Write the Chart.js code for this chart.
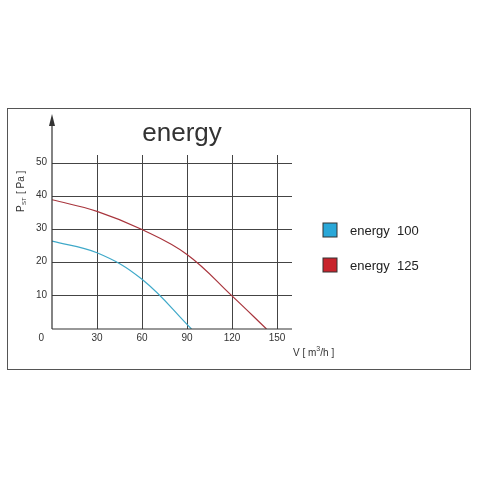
<!DOCTYPE html>
<html><head><meta charset="utf-8">
<script src="https://cdn.jsdelivr.net/npm/chart.js@4"></script>
<style>body{margin:0;background:#fff}#wrap{position:relative;width:480px;height:480px}
#frame{position:absolute;left:7px;top:108px;width:464px;height:262px;border:1px solid #555;box-sizing:border-box}</style>
</head><body><div id="wrap"><div id="frame"></div><canvas id="c" width="480" height="480"></canvas></div>
<script>
// datos
const xTicks = [0, 30, 60, 90, 120, 150];
const yTicks = [10, 20, 30, 40, 50];
const seriesNames = ['energy  100', 'energy  125'];
const blueX = [0, 30, 60, 93];
const blueY = [26.5, 23, 15, 0];
const redX = [0, 30, 60, 90, 120, 143];
const redY = [39, 35.5, 30, 22.5, 10, 0];
const colors = ['#2aa8d8', '#c8242c'];
const lineColors = ['#3fa9c9', '#a8343c'];

const toPts = (xs, ys) => xs.map((x, i) => ({ x: x, y: ys[i] }));

// Dibuja textos, ejes y leyenda
const extras = {
  id: 'extras',
  afterDraw(chart) {
    const ctx = chart.ctx, sx = chart.scales.x, sy = chart.scales.y;
    ctx.save();
    ctx.fillStyle = '#333';
    ctx.font = '10px Arial, "Liberation Sans"';
    ctx.textBaseline = 'middle';
    ctx.textAlign = 'right';
    ctx.fillText('0', sx.left - 8, sy.bottom + 9);
    yTicks.forEach(v => ctx.fillText(v, sx.left - 5, sy.getPixelForValue(v) - 1));
    ctx.textAlign = 'center';
    xTicks.slice(1).forEach(v => ctx.fillText(v, sx.getPixelForValue(v), sy.bottom + 9));
    // ejes con flechas
    ctx.strokeStyle = '#333'; ctx.lineWidth = 1.2;
    ctx.beginPath();
    ctx.moveTo(sx.left, sy.bottom); ctx.lineTo(sx.left, 118);
    ctx.moveTo(sx.left, sy.bottom); ctx.lineTo(sx.right, sy.bottom);
    ctx.stroke();
    ctx.beginPath();
    ctx.moveTo(sx.left, 114); ctx.lineTo(sx.left - 3, 126); ctx.lineTo(sx.left + 3, 126); ctx.closePath();
    ctx.fillStyle = '#333'; ctx.fill();
    // títulos
    ctx.font = '26px Arial, "Liberation Sans"';
    ctx.textAlign = 'center';
    ctx.fillText('energy', 182, 134);
    ctx.font = '10px Arial, "Liberation Sans"';
    ctx.textAlign = 'left';
    ctx.fillText('V [ m', 293, 353);
    let w = ctx.measureText('V [ m').width;
    ctx.font = '7px Arial'; ctx.fillText('3', 293 + w, 349);
    ctx.font = '10px Arial, "Liberation Sans"';
    ctx.fillText('/h ]', 297 + w, 353);
    ctx.save();
    ctx.translate(21, 188); ctx.rotate(-Math.PI / 2);
    ctx.fillText('P', -24, 0);
    ctx.font = '6px Arial'; ctx.fillText('ST', -17, 3);
    ctx.font = '10px Arial, "Liberation Sans"'; ctx.fillText('[ Pa ]', -6, 0);
    ctx.restore();
    // leyenda
    ctx.font = '13px Arial, "Liberation Sans"';
    seriesNames.forEach((n, i) => {
      const y = 230 + i * 35;
      ctx.fillStyle = colors[i]; ctx.fillRect(323, y - 7, 14, 14);
      ctx.strokeStyle = '#333'; ctx.lineWidth = 1; ctx.strokeRect(323, y - 7, 14, 14);
      ctx.fillStyle = '#222'; ctx.fillText(n, 350, y + 1);
    });
    ctx.restore();
  }
};

new Chart(document.getElementById('c'), {
  type: 'scatter',
  data: {
    datasets: [
      { data: toPts(blueX, blueY), showLine: true, borderColor: lineColors[0], borderWidth: 1.2, pointRadius: 0, tension: 0.4 },
      { data: toPts(redX, redY), showLine: true, borderColor: lineColors[1], borderWidth: 1.2, pointRadius: 0, tension: 0.4 }
    ]
  },
  options: {
    responsive: false,
    animation: false,
    layout: { padding: { left: 52, right: 188, top: 155, bottom: 151 } },
    plugins: { legend: { display: false }, tooltip: { enabled: false } },
    scales: {
      x: {
        type: 'linear', min: 0, max: 160,
        afterBuildTicks: s => { s.ticks = xTicks.slice(1).map(v => ({ value: v })); },
        ticks: { display: false },
        grid: { color: '#444', lineWidth: 1, drawTicks: false },
        border: { display: false }
      },
      y: {
        type: 'linear', min: 0, max: 52.5,
        afterBuildTicks: s => { s.ticks = yTicks.map(v => ({ value: v })); },
        ticks: { display: false },
        grid: { color: '#444', lineWidth: 1, drawTicks: false },
        border: { display: false }
      }
    }
  },
  plugins: [extras]
});
</script></body></html>
